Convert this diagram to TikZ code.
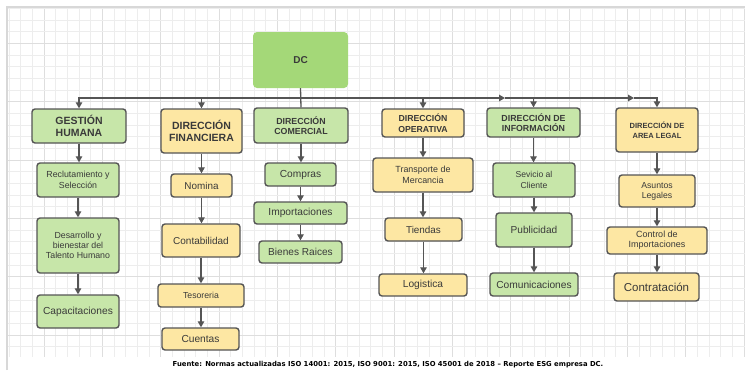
\documentclass[tikz,border=0pt]{standalone}
\usepackage{fontspec}
\setmainfont{Liberation Sans}
\newfontfamily\capfont{DejaVu Sans}
\usetikzlibrary{arrows.meta}
\definecolor{dcg}{HTML}{A4D878}
\definecolor{lgreen}{HTML}{C7E6A9}
\definecolor{lyellow}{HTML}{FDE7A3}
\definecolor{bord}{HTML}{555555}
\definecolor{txt}{HTML}{3A3A3A}
\definecolor{arrc}{HTML}{555555}
\definecolor{gminor}{HTML}{EDEDED}
\definecolor{gmajor}{HTML}{DEDEDE}
\definecolor{frame}{HTML}{D8D8D8}
\newcommand\myfs[2]{\fontsize{#1}{#2}\selectfont}
\begin{document}
\begin{tikzpicture}[x=1pt,y=-1pt,
  box/.style={draw=bord, line width=1.4pt, rounded corners=3pt, align=center, text=txt, inner sep=1pt},
  gbox/.style={box, fill=lgreen},
  ybox/.style={box, fill=lyellow},
  arr/.style={draw=arrc, line width=1.3pt, -{Triangle[length=6pt,width=6.5pt]}},
  ln/.style={draw=arrc, line width=1.3pt}]
\useasboundingbox[fill=white] (0,0) rectangle (745,370);
% grid
\begin{scope}
\clip (7,7) rectangle (745,357);
\foreach \i in {0,...,63} {
  \pgfmathsetmacro\xx{9+11.667*\i}
  \pgfmathtruncatemacro\mm{mod(\i,5)}
  \ifnum\mm=3 \draw[gmajor, line width=0.8pt] (\xx,7) -- (\xx,357);
  \else \draw[gminor, line width=0.7pt] (\xx,7) -- (\xx,357); \fi
}
\foreach \j in {0,...,30} {
  \pgfmathsetmacro\yy{8.3+11.667*\j}
  \pgfmathtruncatemacro\mm{mod(\j,5)}
  \ifnum\mm=3 \draw[gmajor, line width=0.8pt] (7,\yy) -- (745,\yy);
  \else \draw[gminor, line width=0.7pt] (7,\yy) -- (745,\yy); \fi
}
\end{scope}
\draw[frame, line width=2pt] (6.5,370) -- (6.5,6.5) -- (745,6.5);

% top
\node[fill=dcg, rounded corners=4pt, minimum width=95pt, minimum height=56pt, text=txt, font=\bfseries\myfs{10}{12}] (dc) at (300.5,60) {DC};

% level 1
\node[gbox, minimum width=94pt, minimum height=34pt, font=\bfseries\myfs{10.5}{12}] (gh) at (79,126) {GESTIÓN\\HUMANA};
\node[ybox, minimum width=81pt, minimum height=44pt, font=\bfseries\myfs{10.5}{12}] (fin) at (201.5,131) {DIRECCIÓN\\FINANCIERA};
\node[gbox, minimum width=94pt, minimum height=35pt, font=\bfseries\myfs{8.8}{10.7}] (com) at (301,125.5) {DIRECCIÓN\\COMERCIAL};
\node[ybox, minimum width=82pt, minimum height=28pt, font=\bfseries\myfs{8.7}{10.5}] (ope) at (423,123) {DIRECCIÓN\\OPERATIVA};
\node[gbox, minimum width=93pt, minimum height=29pt, font=\bfseries\myfs{8.8}{10.5}] (inf) at (533.5,122.5) {DIRECCIÓN DE\\INFORMACIÓN};
\node[ybox, minimum width=82pt, minimum height=44pt, font=\bfseries\myfs{7.5}{10}] (leg) at (657,130) {DIRECCIÓN DE\\AREA LEGAL};

% bus
\coordinate (bus) at (300.5,98);
\coordinate (m1) at (505,98);
\coordinate (m2) at (634,98);
\draw[ln] (dc.south) -- (com.north);
\draw[arr] (bus) -| (gh.north);
\draw[arr] (bus) -| (fin.north);
\draw[arr] (bus) -| (ope.north);
\draw[arr] (bus) -- (m1);
\draw[arr] (m1) -| (inf.north);
\draw[arr] (m1) -- (m2);
\draw[arr] (m2) -| (leg.north);

% Gestion humana
\node[gbox, minimum width=82pt, minimum height=34pt, font=\myfs{8.8}{10.3}] (rec) at (78,180) {Reclutamiento y\\Selección};
\node[gbox, minimum width=82pt, minimum height=55pt, font=\myfs{8.8}{10.2}] (des) at (78,245.5) {Desarrollo y\\bienestar del\\Talento Humano};
\node[gbox, minimum width=82pt, minimum height=33pt, font=\myfs{10.2}{12}] (cap) at (78,311.5) {Capacitaciones};
% Financiera
\node[ybox, minimum width=61pt, minimum height=23pt, font=\myfs{9.9}{11}] (nom) at (201.5,185.5) {Nomina};
\node[ybox, minimum width=78pt, minimum height=33pt, font=\myfs{10}{12}] (con) at (201,240.5) {Contabilidad};
\node[ybox, minimum width=86pt, minimum height=23pt, font=\myfs{8.7}{10}] (tes) at (201,295.5) {Tesoreria};
\node[ybox, minimum width=77pt, minimum height=22pt, font=\myfs{10.2}{11}] (cue) at (200.5,339) {Cuentas};
% Comercial
\node[gbox, minimum width=71pt, minimum height=23pt, font=\myfs{10.2}{11}] (comp) at (300.5,174.5) {Compras};
\node[gbox, minimum width=93pt, minimum height=22pt, font=\myfs{10.2}{12}] (imp) at (300.5,213) {Importaciones};
\node[gbox, minimum width=83pt, minimum height=22pt, font=\myfs{10.1}{12}] (bie) at (300.5,252) {Bienes Raices};
% Operativa
\node[ybox, minimum width=100pt, minimum height=34pt, font=\myfs{8.9}{10.7}] (tra) at (423,175) {Transporte de\\Mercancia};
\node[ybox, minimum width=77pt, minimum height=23pt, font=\myfs{9.9}{11}] (tie) at (423.5,229.5) {Tiendas};
\node[ybox, minimum width=88pt, minimum height=22pt, font=\myfs{10.2}{12}] (log) at (423,285) {Logistica};
% Informacion
\node[gbox, minimum width=82pt, minimum height=34pt, font=\myfs{8.6}{11}] (sev) at (534,180) {Sevicio al\\Cliente};
\node[gbox, minimum width=76pt, minimum height=34pt, font=\myfs{10.1}{12}] (pub) at (534,230) {Publicidad};
\node[gbox, minimum width=88pt, minimum height=23pt, font=\myfs{10.2}{12}] (comu) at (534,284.5) {Comunicaciones};
% Legal
\node[ybox, minimum width=76pt, minimum height=32pt, font=\myfs{8.7}{10}] (asu) at (657,191) {Asuntos\\Legales};
\node[ybox, minimum width=100pt, minimum height=27pt, font=\myfs{9}{10}] (ctrl) at (657,240.5) {Control de\\Importaciones};
\node[ybox, minimum width=85pt, minimum height=28pt, font=\myfs{11.5}{13}] (ctt) at (656.5,287) {Contratación};

% vertical arrows
\foreach \a/\b in {gh/rec, rec/des, des/cap, fin/nom, nom/con, con/tes, tes/cue,
  com/comp, comp/imp, imp/bie, ope/tra, tra/tie, tie/log, inf/sev, sev/pub, pub/comu,
  leg/asu, asu/ctrl, ctrl/ctt}
  \draw[arr] (\a.south) -- (\a.south |- \b.north);

% caption
\node[font=\capfont\bfseries\myfs{6.85}{8}, text=black, inner sep=0pt] (cap0) at (388,364.5) {Fuente: Normas actualizadas ISO 14001: 2015, ISO 9001: 2015, ISO 45001 de 2018 – Reporte ESG empresa DC.};
\end{tikzpicture}
\end{document}
